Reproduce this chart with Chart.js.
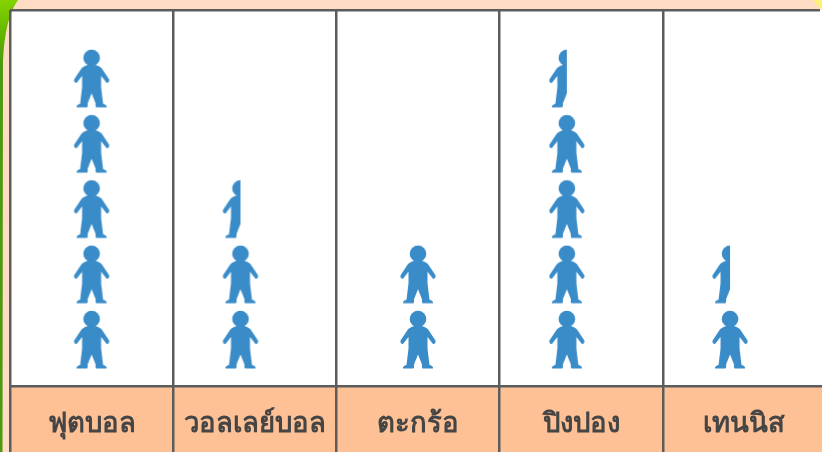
<!DOCTYPE html>
<html>
<head>
<meta charset="utf-8">
<style>
    html, body { margin: 0; padding: 0; overflow: hidden; background: #ffdcc4; }
    #wrap { width: 822px; height: 452px; overflow: hidden; }
    canvas { display: block; }
</style>
<script src="https://cdn.jsdelivr.net/npm/chart.js@4"></script>
</head>
<body>
<div id="wrap"><canvas id="pictoChart" width="832" height="466"></canvas></div>
<script>
const categories = ['ฟุตบอล', 'วอลเลย์บอล', 'ตะกร้อ', 'ปิงปอง', 'เทนนิส'];
const personCounts = [5, 2.5, 2, 4.5, 1.5];

// the icons are not centred in every column of the original
const columnNudge = [0, -0.088, 0, -0.088, -0.088];
const rowOffset = 0.705;
const yTop = 5.76;

function makePerson(halfOnly) {
    const c = document.createElement('canvas');
    c.width = 40;
    c.height = 62;
    const g = c.getContext('2d');
    g.filter = 'blur(0.7px)';
    g.translate(20, 1.5);
    if (halfOnly) {
        g.beginPath();
        g.rect(-20, -2, 20, 64);
        g.clip();
    }
    g.fillStyle = '#3a8cc9';
    g.beginPath();
    g.arc(0, 8.5, 8.3, 0, Math.PI * 2);
    g.fill();
    g.beginPath();
    g.moveTo(-3, 15);
    g.lineTo(-7.5, 17);
    g.quadraticCurveTo(-10, 18, -11.5, 21);
    g.lineTo(-17.5, 30);
    g.quadraticCurveTo(-18, 33.5, -15, 33.5);
    g.lineTo(-9.5, 26.5);
    g.lineTo(-9.5, 38);
    g.lineTo(-11.5, 54.5);
    g.quadraticCurveTo(-15.5, 55.5, -15, 58);
    g.lineTo(-4.5, 58);
    g.quadraticCurveTo(-3.5, 56, -4, 54);
    g.lineTo(0, 44);
    g.lineTo(4, 54);
    g.quadraticCurveTo(3.5, 56, 4.5, 58);
    g.lineTo(15, 58);
    g.quadraticCurveTo(15.5, 55.5, 11.5, 54.5);
    g.lineTo(9.5, 38);
    g.lineTo(9.5, 26.5);
    g.lineTo(15, 33.5);
    g.quadraticCurveTo(18, 33.5, 17.5, 30);
    g.lineTo(11.5, 21);
    g.quadraticCurveTo(10, 18, 7.5, 17);
    g.lineTo(3, 15);
    g.closePath();
    g.fill();
    return c;
}

const fullPerson = makePerson(false);
const halfPerson = makePerson(true);

// one point per icon, a leftover half gets the cut sprite
const personPoints = [];
personCounts.forEach((count, col) => {
    for (let row = 0; row < count; row++) {
        personPoints.push({
            x: col + 0.5 + columnNudge[col],
            y: row + rowOffset,
            half: count - row < 1
        });
    }
});

const backdrop = {
    id: 'backdrop',
    beforeDraw(chart) {
        const ctx = chart.ctx;
        const area = chart.chartArea;
        ctx.save();
        ctx.fillStyle = '#ffdcc4';
        ctx.fillRect(0, 0, chart.width, chart.height);
        ctx.fillStyle = '#ffffff';
        ctx.fillRect(area.left, area.top, chart.width - area.left, area.bottom - area.top);
        ctx.fillStyle = '#fdc195';
        ctx.fillRect(area.left, area.bottom, chart.width - area.left, chart.height - area.bottom);

        const green = ctx.createLinearGradient(0, 0, 14, 60);
        green.addColorStop(0, '#86d400');
        green.addColorStop(0.6, '#5fb300');
        green.addColorStop(1, '#4d9a12');
        ctx.fillStyle = green;
        ctx.beginPath();
        ctx.moveTo(0, 0);
        ctx.lineTo(18, 0);
        ctx.quadraticCurveTo(5, 18, 3, 60);
        ctx.lineTo(2.5, 452);
        ctx.lineTo(0, 452);
        ctx.closePath();
        ctx.fill();
        ctx.restore();
    },
    afterDraw(chart) {
        const ctx = chart.ctx;
        ctx.save();
        ctx.fillStyle = '#ffffff';
        ctx.fillRect(820, 8, 12, 4);
        ctx.fillStyle = '#fff27a';
        ctx.beginPath();
        ctx.moveTo(813, 0);
        ctx.lineTo(822, 0);
        ctx.lineTo(822, 11);
        ctx.closePath();
        ctx.fill();
        ctx.restore();
    }
};

new Chart(document.getElementById('pictoChart'), {
    type: 'scatter',
    data: {
        labels: categories,
        datasets: [{
            data: personPoints,
            xAxisID: 'icons',
            yAxisID: 'y',
            pointStyle: (ctx) => (ctx.raw && ctx.raw.half ? halfPerson : fullPerson),
            showLine: false
        }]
    },
    options: {
        responsive: false,
        animation: false,
        layout: { padding: { top: 10, left: 10, right: 6, bottom: 0 } },
        plugins: {
            legend: { display: false },
            tooltip: { enabled: false }
        },
        scales: {
            x: {
                type: 'category',
                labels: categories,
                offset: true,
                position: 'bottom',
                afterFit(scale) { scale.height = 80; },
                grid: {
                    offset: true,
                    color: '#5c5c5c',
                    lineWidth: 2.5,
                    tickLength: 80,
                    tickColor: '#5c5c5c',
                    tickWidth: 2.5
                },
                border: { display: false },
                ticks: {
                    padding: -58,
                    maxRotation: 0,
                    autoSkip: false,
                    color: '#454545',
                    font: { family: '"Noto Sans", sans-serif', size: 27.5, weight: 'bold' }
                }
            },
            icons: {
                type: 'linear',
                display: false,
                min: 0,
                max: 5
            },
            y: {
                type: 'linear',
                min: 0,
                max: yTop,
                afterBuildTicks(scale) { scale.ticks = [{ value: 0 }, { value: yTop }]; },
                grid: { color: '#5c5c5c', lineWidth: 2.5, drawTicks: false },
                border: { display: false },
                ticks: { display: false }
            }
        }
    },
    plugins: [backdrop]
});
</script>
</body>
</html>
